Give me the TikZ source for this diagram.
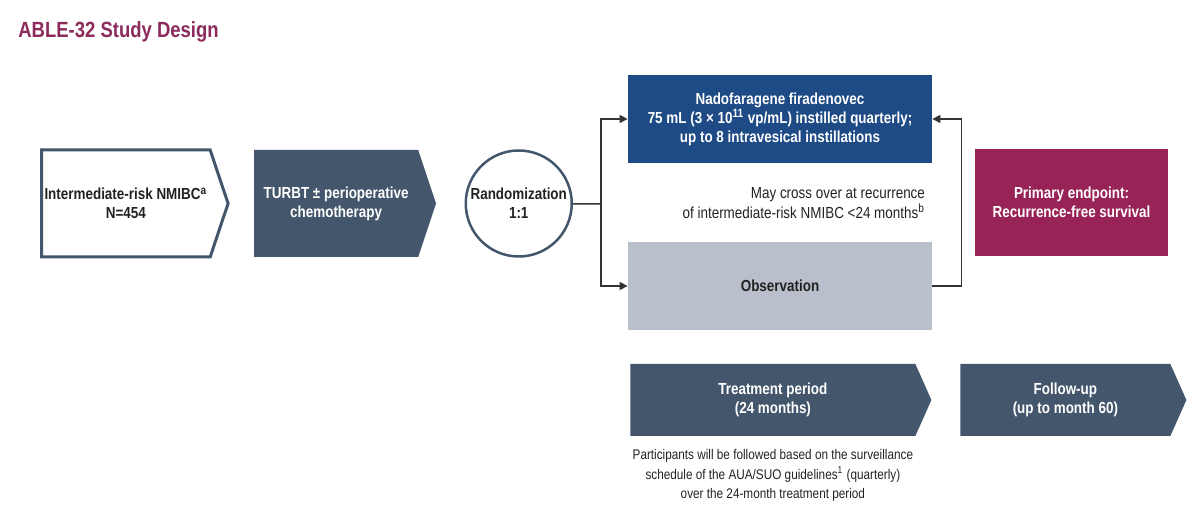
\documentclass[tikz,border=0pt]{standalone}
\usepackage{fontspec}
\setmainfont{Liberation Sans}[FakeStretch=0.84]
\usepackage{tikz}
\usetikzlibrary{shapes.symbols, arrows.meta, positioning}

\definecolor{slate}{HTML}{44566C}
\definecolor{navy}{HTML}{1E4A86}
\definecolor{mist}{HTML}{B9C0CB}
\definecolor{maroon}{HTML}{982457}
\definecolor{titlered}{HTML}{8C2A5C}
\definecolor{ink}{HTML}{222222}

\begin{document}
\begin{tikzpicture}[
    x=0.5pt, y=-0.5pt,
    font=\fontsize{8}{9.5}\selectfont\bfseries,
    entry/.style={signal, signal to=east, signal pointer angle=143, draw=slate, line width=1.5pt, fill=white, text=ink, minimum width=90pt, minimum height=53.5pt, inner xsep=1.5pt, align=center},
    stage/.style={signal, signal to=east, signal pointer angle=143, fill=slate, text=white, minimum width=91pt, minimum height=53.5pt, align=center},
    rand/.style={circle, draw=slate, line width=1.25pt, fill=white, text=ink, minimum size=53pt, inner sep=0pt, align=center},
    arm/.style={rectangle, minimum width=152pt, minimum height=44pt, align=center},
    endpoint/.style={rectangle, fill=maroon, text=white, minimum width=96.5pt, minimum height=53.5pt, align=center},
    phase/.style={signal, signal to=east, signal pointer angle=132, fill=slate, text=white, minimum height=36pt, align=center},
    note/.style={font=\fontsize{8}{10}\selectfont, text=ink},
    arrow/.style={line width=0.75pt, draw=black!80, -{Triangle[length=4pt, width=4pt]}},
]

    \useasboundingbox (0,0) rectangle (1200,512);

    \node (title) [anchor=base west, inner sep=0pt, text=titlered, font=\fontsize{11}{13}\selectfont\bfseries] at (18,38) {ABLE-32 Study Design};

    \node (entry) [entry, anchor=west] at (40,203.5) {Intermediate-risk NMIBC\textsuperscript{a}\\N=454};
    \node (turbt) [stage, right=12pt of entry] {TURBT ± perioperative\\chemotherapy};
    \node (rand) [rand, right=14pt of turbt] {Randomization\\1:1};

    \node (nado) [arm, fill=navy, text=white] at (780,119) {Nadofaragene firadenovec\\75 mL (3 × 10\textsuperscript{11} vp/mL) instilled quarterly;\\up to 8 intravesical instillations};
    \node (obs) [arm, fill=mist, text=ink] at (780,286) {Observation};
    \node (cross) [note, anchor=east, align=right] at (932,203) {May cross over at recurrence\\of intermediate-risk NMIBC <24 months\textsuperscript{b}};

    \node (endpoint) [endpoint] at (1071.5,202.5) {Primary endpoint:\\Recurrence-free survival};

    \node (treat) [phase, minimum width=150.5pt, anchor=west] at (630,400) {Treatment period\\(24 months)};
    \node (follow) [phase, minimum width=113pt, anchor=west] at (960,400) {Follow-up\\(up to month 60)};
    \node (foot) [note, font=\fontsize{7}{9.75}\selectfont, align=center, below=3pt of treat] {Participants will be followed based on the surveillance\\schedule of the AUA/SUO guidelines\textsuperscript{1} (quarterly)\\over the 24-month treatment period};

    \coordinate (split) at (601,204);
    \draw [line width=0.75pt, draw=black!80] (rand) -- (split);
    \draw [arrow] (split) |- (nado.west);
    \draw [arrow] (split) |- (obs.west);
    \draw [arrow] (obs.east) -- ++(29,0) |- (nado.east);

\end{tikzpicture}
\end{document}
